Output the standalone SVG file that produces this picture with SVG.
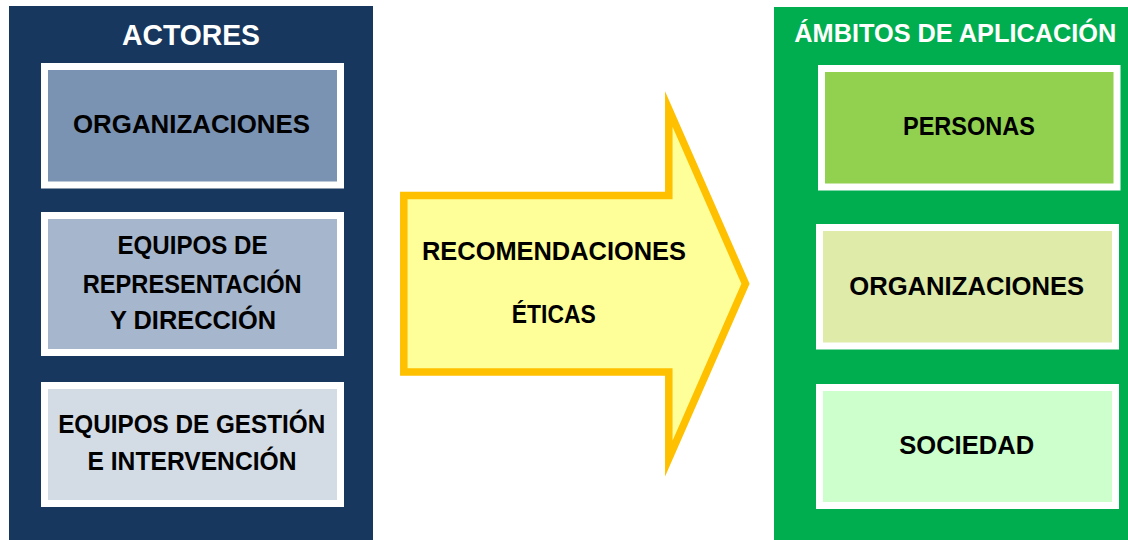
<svg xmlns="http://www.w3.org/2000/svg" width="1128" height="540" viewBox="0 0 1128 540">
<style>
.t{font-family:"Liberation Sans",Arial,sans-serif;font-weight:bold;font-size:26px;fill:#000;text-anchor:middle}
.h{font-family:"Liberation Sans",Arial,sans-serif;font-weight:bold;fill:#fff;text-anchor:middle}
.box{stroke:#fff;stroke-width:7}
</style>
<rect width="1128" height="540" fill="#fff"/>
<g id="actores">
<rect x="9" y="6" width="364" height="534" fill="#17375e"/>
<text class="h" x="191" y="45" font-size="30" textLength="138" lengthAdjust="spacingAndGlyphs">ACTORES</text>
</g>
<g id="act-organizaciones">
<rect class="box" x="44.5" y="66.5" width="296" height="118.5" fill="#7a93b2"/>
<text class="t" x="191.5" y="133" textLength="237" lengthAdjust="spacingAndGlyphs">ORGANIZACIONES</text>
</g>
<g id="act-equipos-dir">
<rect class="box" x="44.5" y="215.5" width="296" height="137" fill="#a6b7cd"/>
<text class="t" x="192.5" y="254.3" textLength="150" lengthAdjust="spacingAndGlyphs">EQUIPOS DE</text>
<text class="t" x="192.2" y="292.7" textLength="219" lengthAdjust="spacingAndGlyphs">REPRESENTACIÓN</text>
<text class="t" x="193" y="329" textLength="166" lengthAdjust="spacingAndGlyphs">Y DIRECCIÓN</text>
</g>
<g id="act-equipos-gest">
<rect class="box" x="44.5" y="385.5" width="296" height="118" fill="#d3dbe5"/>
<text class="t" x="191.7" y="433.3" textLength="267" lengthAdjust="spacingAndGlyphs">EQUIPOS DE GESTIÓN</text>
<text class="t" x="192" y="470" textLength="209" lengthAdjust="spacingAndGlyphs">E INTERVENCIÓN</text>
</g>
<g id="connectors">
<g id="recomendaciones">
<path d="M403.8,195.5 H668.8 V109 L745.5,283.7 L668.8,458.5 V371.9 H403.8 Z" fill="#ffff99" stroke="#ffc000" stroke-width="7.5" stroke-linejoin="miter" stroke-miterlimit="10"/>
<text class="t" x="554" y="260" textLength="264" lengthAdjust="spacingAndGlyphs">RECOMENDACIONES</text>
<text class="t" x="553.8" y="323.3" textLength="84" lengthAdjust="spacingAndGlyphs">ÉTICAS</text>
</g>
</g>
<g id="ambitos">
<rect x="774" y="7" width="354" height="533" fill="#00ae4f"/>
<text class="h" x="955.3" y="41.7" font-size="25.5" textLength="322" lengthAdjust="spacingAndGlyphs">ÁMBITOS DE APLICACIÓN</text>
</g>
<g id="amb-personas">
<rect class="box" x="821.5" y="68.5" width="295.5" height="118.5" fill="#92d050"/>
<text class="t" x="969" y="135" textLength="132" lengthAdjust="spacingAndGlyphs">PERSONAS</text>
</g>
<g id="amb-organizaciones">
<rect class="box" x="819.5" y="227.5" width="296" height="118.5" fill="#dfeba9"/>
<text class="t" x="966.7" y="295" textLength="235" lengthAdjust="spacingAndGlyphs">ORGANIZACIONES</text>
</g>
<g id="amb-sociedad">
<rect class="box" x="819.5" y="387.5" width="296" height="118" fill="#ccffcc"/>
<text class="t" x="966.7" y="454" textLength="135" lengthAdjust="spacingAndGlyphs">SOCIEDAD</text>
</g>
</svg>
